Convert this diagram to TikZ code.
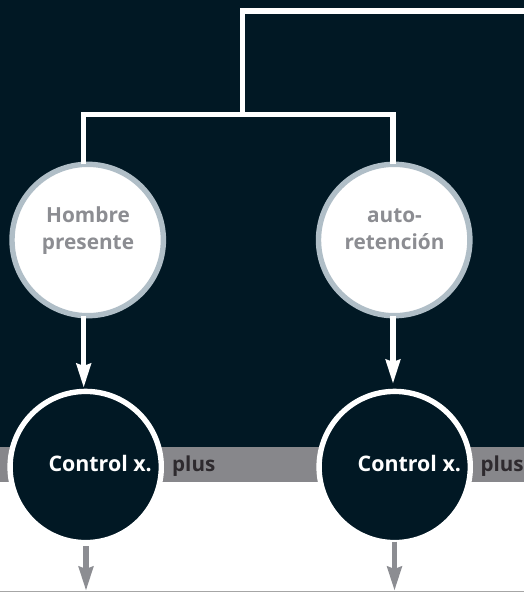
\documentclass[tikz,border=0pt]{standalone}
\usepackage{fontspec}
\setmainfont{Open Sans}
\usetikzlibrary{arrows.meta}
\definecolor{navy}{HTML}{011824}
\definecolor{band}{HTML}{87878B}
\definecolor{ring}{HTML}{B0BEC7}
\definecolor{soft}{HTML}{8C8D92}
\definecolor{inkk}{HTML}{2E2A2E}
\tikzset{
  x=1pt,y=-1pt,
  lbl/.style={font=\fontsize{20.8}{26.6}\selectfont\bfseries,inner sep=0pt},
  ctrllbl/.style={font=\fontsize{21.4}{26}\selectfont\bfseries,inner sep=0pt},
  pluslbl/.style={font=\fontsize{20.6}{26}\selectfont\bfseries,inner sep=0pt},
  topdisc/.style={circle,draw=ring,fill=white,line width=5.4pt,minimum size=151.4pt,inner sep=0pt,outer sep=0pt},
  ctrl/.style={circle,draw=white,fill=navy,line width=5.4pt,minimum size=151.2pt,inner sep=0pt,outer sep=0pt},
  wire/.style={draw=white,line width=5.4pt},
  inarrow/.style={wire,-{Stealth[length=24pt,width=14pt,inset=2pt]}},
  outarrow/.style={draw=soft,line width=5.6pt,-{Stealth[length=24pt,width=14pt,inset=2pt]}}
}
\begin{document}
\begin{tikzpicture}
\path[use as bounding box,fill=navy] (0,0) rectangle (524,592);
\fill[white] (0,481.5) rectangle (524,592);
\fill[band] (0,447) rectangle (524,481.5);
\fill[black!35] (0,590.5) rectangle (524,592);
% free ends and junctions
\coordinate (feed) at (524,11);
\coordinate (corner) at (242.7,11);
\coordinate (tee) at (242.7,114.7);
\coordinate (leftc) at (83.5,114.7);
\coordinate (rightc) at (393,114.7);
\coordinate (outl) at (86,591);
\coordinate (outr) at (394.5,591);
\coordinate (outls) at (86,546);
\coordinate (outrs) at (394.5,541.5);
\coordinate (inl) at (83.7,388);
\coordinate (inr) at (393,384);
% discs
\node[topdisc] (hp) at (87.7,240) {};
\node[topdisc] (ar) at (394.2,240) {};
\node[ctrl] (c1) at (85.7,467) {};
\node[ctrl] (c2) at (394.7,467) {};
% labels
\node[lbl,text=soft,anchor=base] (t3) at (88,222.7) {Hombre};
\node[lbl,text=soft,anchor=base] (t4) at (88,249.3) {presente};
\node[lbl,text=soft,anchor=base] (t5) at (394.5,222.7) {auto-};
\node[lbl,text=soft,anchor=base] (t6) at (394.5,249.3) {retención};
\node[ctrllbl,text=white,anchor=base west] (t1) at (48.3,471) {Control x.};
\node[ctrllbl,text=white,anchor=base west] (t2) at (357.5,471) {Control x.};
\node[pluslbl,text=inkk,anchor=base west] (p1) at (172,471) {plus};
\node[pluslbl,text=inkk,anchor=base west] (p2) at (480.3,471) {plus};
% wires
\draw[wire,line cap=butt,line join=miter] (feed) -- (corner) -- (tee);
\draw[wire,line join=miter] (hp.north -| leftc) -- (leftc) -- (rightc) -- (ar.north -| rightc);
\draw[inarrow] (hp.south -| inl) -- (inl);
\draw[inarrow] (ar.south -| inr) -- (inr);
\draw[outarrow] (outls) -- (outl);
\draw[outarrow] (outrs) -- (outr);
\end{tikzpicture}
\end{document}
